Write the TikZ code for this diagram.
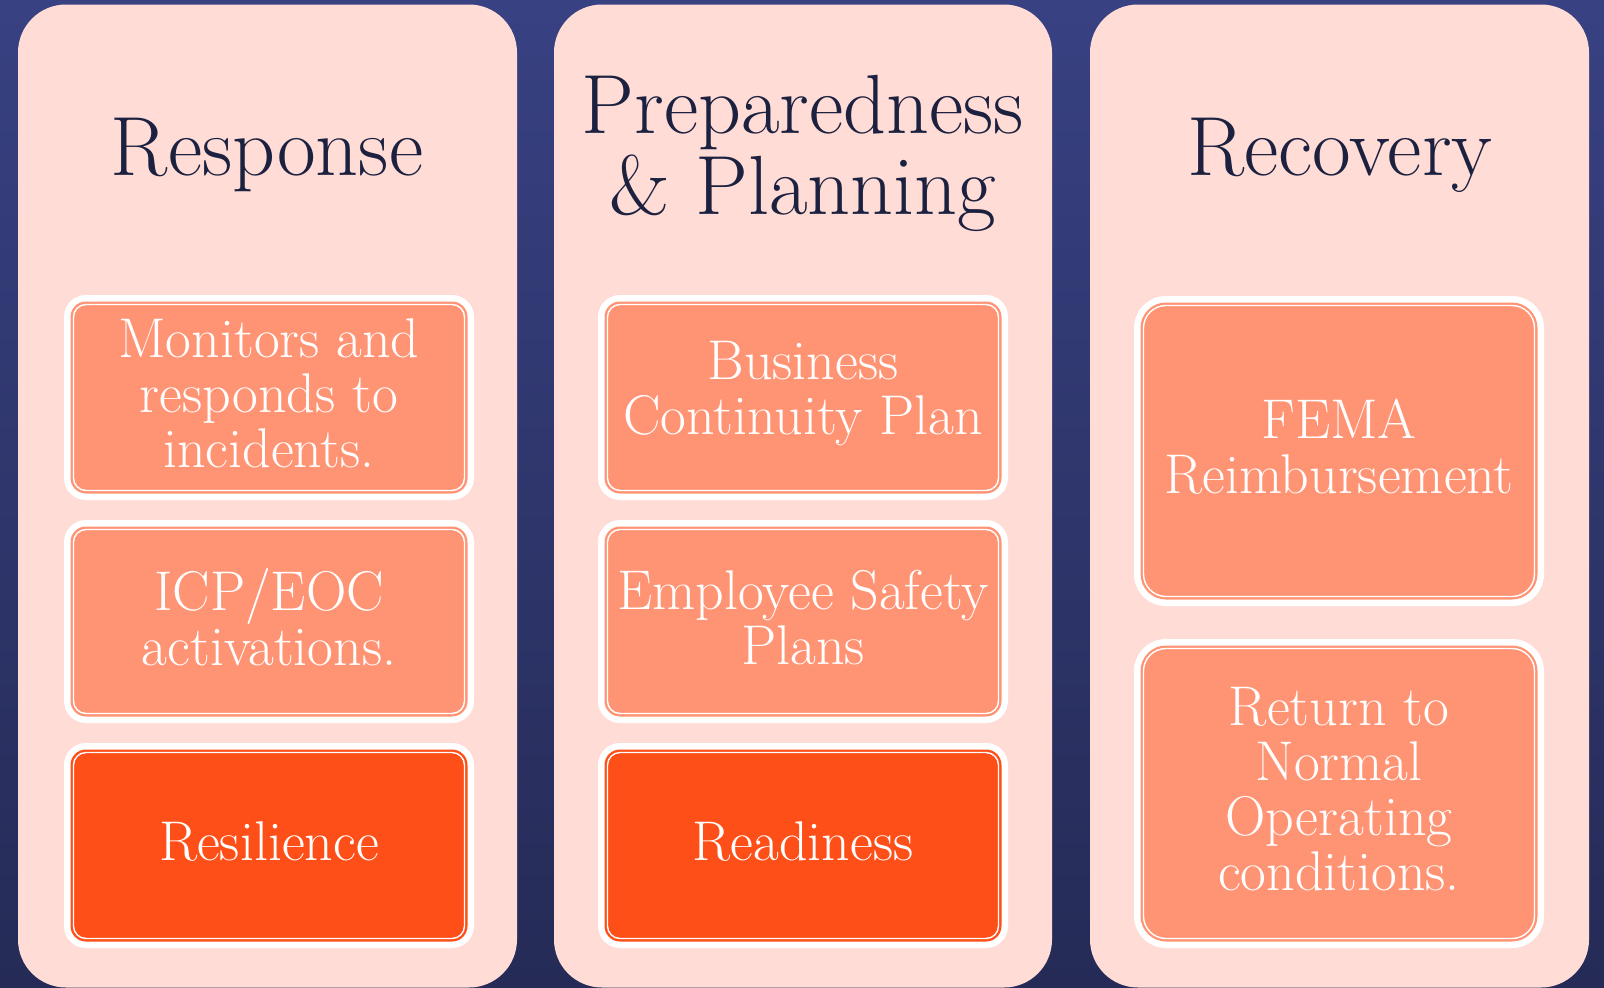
\documentclass[tikz,border=0pt]{standalone}
\usepackage{fontspec}
\definecolor{bgtop}{RGB}{56,65,130}
\definecolor{bgbot}{RGB}{37,43,86}
\definecolor{colfill}{RGB}{255,220,214}
\definecolor{titlecol}{RGB}{28,33,64}
\definecolor{lightor}{RGB}{255,148,117}
\definecolor{darkor}{RGB}{255,79,24}
\tikzset{
  column/.style={fill=colfill, rounded corners=48pt, inner sep=0pt},
  titletext/.style={text=titlecol, font=\fontsize{84}{81}\selectfont, align=center, inner sep=0pt},
  boxtext/.style={text=white, font=\fontsize{56}{55}\selectfont, align=center, inner sep=0pt},
}
% #1 name, #2 x1, #3 y1, #4 x2, #5 y2, #6 radius, #7 colour, #8 text
\newcommand\card[8]{%
  \pgfmathsetmacro\rA{#6}%
  \pgfmathsetmacro\rB{#6-6.5}%
  \pgfmathsetmacro\rC{#6-9.5}%
  \fill[white, rounded corners=\rA pt] (#2,#3) rectangle (#4,#5);
  \fill[#7, rounded corners=\rB pt] ({#2+6.5},{#3+6.5}) rectangle ({#4-6.5},{#5-6.5});
  \draw[white, line width=1.4pt, rounded corners=\rC pt] ({#2+9.5},{#3+9.5}) rectangle ({#4-9.5},{#5-9.5});
  \node[boxtext] (#1) at ({(#2+#4)/2},{(#3+#5)/2-4}) {#8};
}
\begin{document}
\begin{tikzpicture}[x=1pt,y=-1pt]
\useasboundingbox (0,0) rectangle (1604,988);
\shade[top color=bgtop, bottom color=bgbot] (0,0) rectangle (1604,988);
% columns
\node[column, minimum width=499pt, minimum height=983pt] (c1) at (267.5,496) {};
\node[column, minimum width=498pt, minimum height=983pt] (c2) at (803,496) {};
\node[column, minimum width=499pt, minimum height=983pt] (c3) at (1339.5,496) {};
% titles
\node[titletext, anchor=base] (t1) at (267,175) {Response};
\node[titletext] (t2) at (803,153) {Preparedness\\\& Planning};
\node[titletext, anchor=base] (t3) at (1340,175) {Recovery};
% column 1
\card{r1}{64}{295}{474}{500}{22}{lightor}{Monitors and\\responds to\\incidents.}
\card{r2}{64}{520}{474}{723}{22}{lightor}{ICP/EOC\\activations.}
\card{r3}{64}{743}{474}{948}{22}{darkor}{Resilience}
% column 2
\card{p1}{598}{295}{1008}{500}{22}{lightor}{Business\\Continuity Plan}
\card{p2}{598}{520}{1008}{723}{22}{lightor}{Employee Safety\\Plans}
\card{p3}{598}{743}{1008}{948}{22}{darkor}{Readiness}
% column 3
\card{v1}{1134}{296}{1544}{606}{32}{lightor}{FEMA\\Reimbursement}
\card{v2}{1134}{639}{1544}{948}{32}{lightor}{Return to\\Normal\\Operating\\conditions.}
\end{tikzpicture}
\end{document}
